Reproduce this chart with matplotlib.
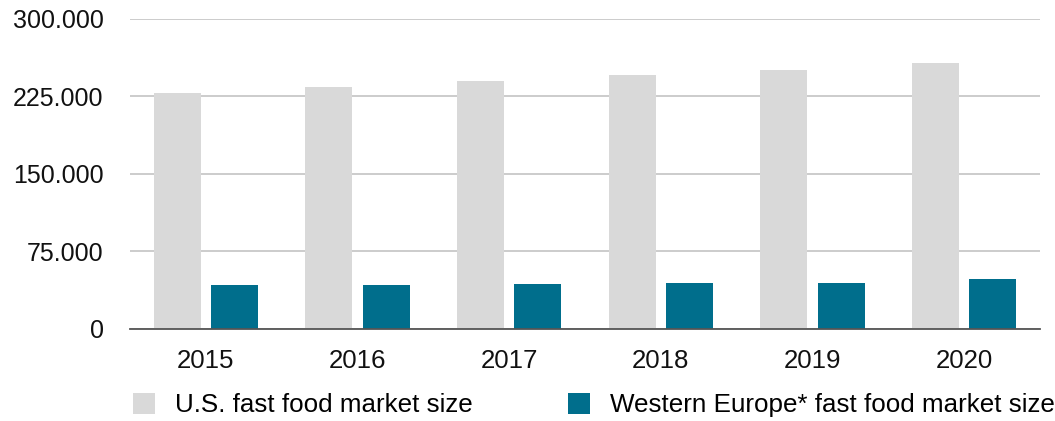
import matplotlib.pyplot as plt
import numpy as np
from matplotlib.ticker import FuncFormatter
from matplotlib.patches import Patch

plt.rcParams['font.family'] = ['Liberation Sans', 'DejaVu Sans']

# --- dados (milhões de USD) ---
anos = ["2015", "2016", "2017", "2018", "2019", "2020"]
us_mercado = [228000, 234000, 240000, 245500, 250500, 257000]
europa_mercado = [42000, 42000, 43000, 44000, 44000, 48000]

COR_US = "#d9d9d9"
COR_EU = "#006e8c"

fig = plt.figure(figsize=(10.55, 4.21), dpi=100)
ax = fig.add_axes([130 / 1055, 92.5 / 421, 910 / 1055, 309.5 / 421])

x = np.arange(len(anos))
largura = 0.31
ax.bar(x - 0.19, us_mercado, largura, color=COR_US, zorder=2)
ax.bar(x + 0.19, europa_mercado, largura, color=COR_EU, zorder=2)

ax.set_xlim(-0.5, len(anos) - 0.5)
ax.set_ylim(0, 300000)
ax.set_yticks([0, 75000, 150000, 225000, 300000])
ax.yaxis.set_major_formatter(
    FuncFormatter(lambda v, p: f"{int(v):,}".replace(",", "."))
)
ax.set_xticks(x)
ax.set_xticklabels(anos)

ax.grid(axis="y", color="#c8c8c8", linewidth=1.3, zorder=0)
ax.set_axisbelow(True)
for s in ["top", "right", "left"]:
    ax.spines[s].set_visible(False)
ax.spines["bottom"].set_color("#555555")
ax.spines["bottom"].set_linewidth(1.3)
ax.spines["bottom"].set_zorder(3)

ax.tick_params(axis="y", length=0, pad=19, labelsize=18, labelcolor="#111111")
ax.tick_params(axis="x", length=0, pad=15, labelsize=18.6, labelcolor="#111111")

handles = [
    Patch(facecolor=COR_US, edgecolor="none", label="U.S. fast food market size"),
    Patch(facecolor=COR_EU, edgecolor="none", label="Western Europe* fast food market size"),
]
fig.legend(
    handles=handles,
    loc="center left",
    bbox_to_anchor=(133 / 1055, 16 / 421),
    ncol=2,
    frameon=False,
    fontsize=18.7,
    handlelength=0.85,
    handleheight=0.85,
    handletextpad=0.77,
    columnspacing=3.65,
    borderpad=0,
    borderaxespad=0,
)

plt.savefig("out.png", dpi=100)
